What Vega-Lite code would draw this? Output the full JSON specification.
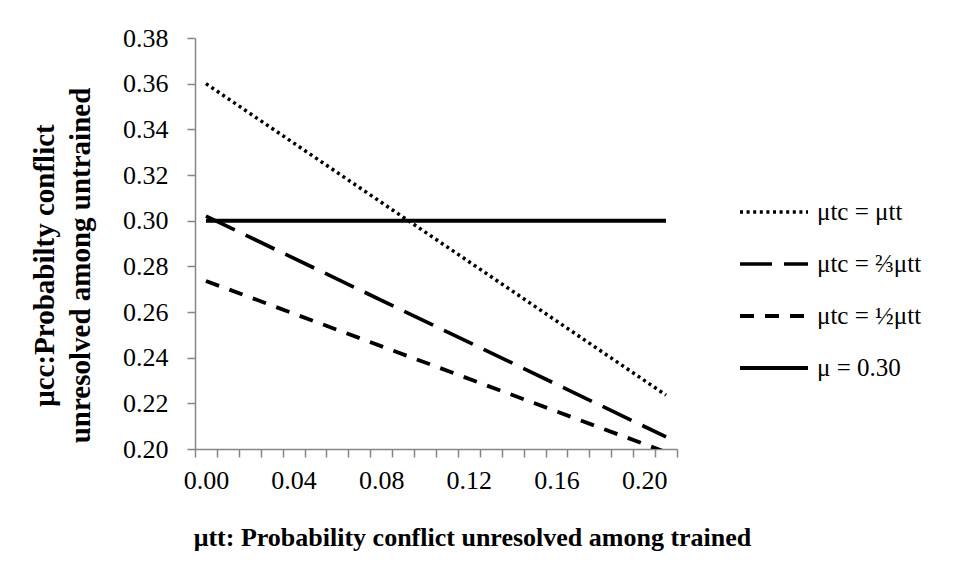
{
  "$schema": "https://vega.github.io/schema/vega-lite/v6.json",
  "width": 482,
  "height": 411,
  "autosize": "none",
  "padding": {"left": 195, "top": 38, "right": 279, "bottom": 126},
  "background": "white",
  "config": {
    "view": {"stroke": null},
    "font": "Liberation Serif",
    "axis": {
      "grid": false,
      "domainColor": "#868686",
      "tickColor": "#868686",
      "domainWidth": 1.5,
      "tickWidth": 1.5,
      "tickSize": 8,
      "labelColor": "black",
      "labelFont": "Liberation Serif",
      "labelFontSize": 26,
      "titleFont": "Liberation Serif",
      "titleFontWeight": "bold",
      "titleFontSize": 26,
      "titleColor": "black"
    }
  },
  "data": {
    "values": [
      {"series": "μtc = μtt", "x": 0.0, "y": 0.36},
      {"series": "μtc = μtt", "x": 0.21, "y": 0.2236},
      {"series": "μtc = ⅔μtt", "x": 0.0, "y": 0.302},
      {"series": "μtc = ⅔μtt", "x": 0.21, "y": 0.2053},
      {"series": "μtc = ½μtt", "x": 0.0, "y": 0.2736},
      {"series": "μtc = ½μtt", "x": 0.21, "y": 0.1986},
      {"series": "μ = 0.30", "x": 0.0, "y": 0.30},
      {"series": "μ = 0.30", "x": 0.21, "y": 0.30}
    ]
  },
  "mark": {"type": "line", "color": "black", "clip": true, "strokeCap": "butt"},
  "encoding": {
    "x": {
      "field": "x",
      "type": "quantitative",
      "scale": {"domain": [-0.005, 0.215], "nice": false, "zero": false},
      "axis": {
        "values": [-0.005, 0.005, 0.015, 0.025, 0.035, 0.045, 0.055, 0.065, 0.075, 0.085, 0.095, 0.105, 0.115, 0.125, 0.135, 0.145, 0.155, 0.165, 0.175, 0.185, 0.195, 0.205, 0.215],
        "labelExpr": "round((datum.value + 0.005) * 100) % 4 == 0 && datum.value < 0.21 ? format(datum.value + 0.005, '.2f') : ''",
        "labelOffset": 10.95,
        "labelOverlap": false,
        "labelBound": false,
        "labelFlush": false,
        "labelPadding": 10,
        "title": "μtt: Probability conflict unresolved among trained",
        "titleX": 277,
        "titleY": 88,
        "titleAlign": "center",
        "titleBaseline": "middle"
      }
    },
    "y": {
      "field": "y",
      "type": "quantitative",
      "scale": {"domain": [0.2, 0.38], "nice": false, "zero": false},
      "axis": {
        "values": [0.2, 0.22, 0.24, 0.26, 0.28, 0.3, 0.32, 0.34, 0.36, 0.38],
        "format": ".2f",
        "labelPadding": 19,
        "labelOverlap": false,
        "title": ["μcc:Probabilty conflict", "unresolved among untrained"],
        "titleFontSize": 29,
        "titleX": -151,
        "titleY": 227,
        "titleAngle": -90,
        "titleAlign": "center",
        "titleBaseline": "middle",
        "titleLineHeight": 36
      }
    },
    "strokeDash": {
      "field": "series",
      "type": "nominal",
      "scale": {
        "domain": ["μtc = μtt", "μtc = ⅔μtt", "μtc = ½μtt", "μ = 0.30"],
        "range": [[3, 3.6], [32, 12], [14, 11], [1, 0]]
      },
      "legend": {
        "title": null,
        "orient": "none",
        "legendX": 543,
        "legendY": 138,
        "symbolType": "stroke",
        "symbolSize": 4624,
        "symbolStrokeColor": "black",
        "labelFont": "Liberation Serif",
        "labelFontSize": 25,
        "labelColor": "black",
        "labelOffset": 7,
        "rowPadding": 3
      }
    },
    "strokeWidth": {
      "field": "series",
      "type": "nominal",
      "scale": {
        "domain": ["μtc = μtt", "μtc = ⅔μtt", "μtc = ½μtt", "μ = 0.30"],
        "range": [3.5, 4, 4, 6]
      },
      "legend": {
        "title": null,
        "orient": "none",
        "legendX": 543,
        "legendY": 138,
        "symbolType": "stroke",
        "symbolSize": 4624,
        "symbolStrokeColor": "black",
        "labelFont": "Liberation Serif",
        "labelFontSize": 25,
        "labelColor": "black",
        "labelOffset": 7,
        "rowPadding": 3
      }
    }
  }
}
